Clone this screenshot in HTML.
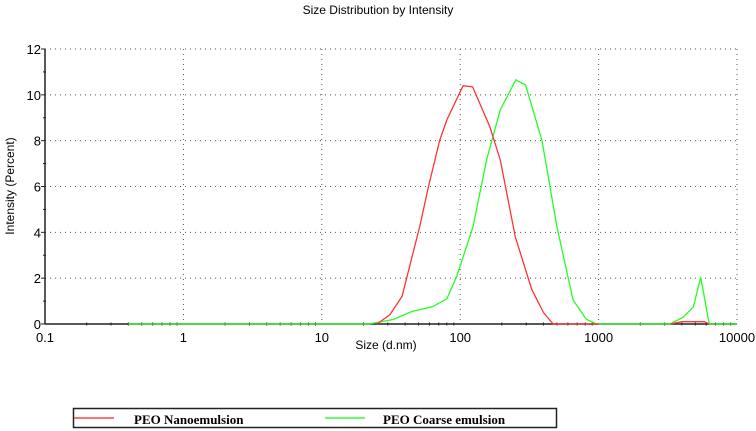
<!DOCTYPE html>
<html><head><meta charset="utf-8"><style>
body{margin:0;background:#fff;}
svg{display:block;font-family:"Liberation Sans",Arial,sans-serif;}
</style></head><body>
<svg id="chart" width="756" height="431" viewBox="0 0 756 431" xmlns="http://www.w3.org/2000/svg">
<text x="378" y="14" text-anchor="middle" font-size="12">Size Distribution by Intensity</text>
<g id="grid"></g>
<g id="axes"></g>
<g id="series"></g>
<text transform="translate(14,186) rotate(-90)" text-anchor="middle" font-size="12">Intensity (Percent)</text>
<text x="386" y="349" text-anchor="middle" font-size="12">Size (d.nm)</text>
<g>
<rect x="73.5" y="408.5" width="483" height="19" fill="none" stroke="#222" stroke-width="1.5"/>
<g>
<line x1="74" y1="418" x2="114" y2="418" stroke="#f44" stroke-width="1.5"/>
<text x="134" y="424" font-family="Liberation Serif,serif" font-weight="bold" font-size="13">PEO Nanoemulsion</text>
</g>
<g>
<line x1="325" y1="418" x2="365" y2="418" stroke="#3f3" stroke-width="1.5"/>
<text x="383" y="424" font-family="Liberation Serif,serif" font-weight="bold" font-size="13">PEO Coarse emulsion</text>
</g>
</g>
</svg>
<script>
const xTickLabels=["0.1","1","10","100","1000","10000"];
const yTickLabels=["0","2","4","6","8","10","12"];
const nanoSize=[25,31,38,51,59,71,80,105,123,164,195,250,329,400,470,1000,null,3300,4000,4800,5800,6300];
const nanoIntensity=[0,0.4,1.2,4.25,6.0,8.0,8.9,10.4,10.35,8.6,7.15,3.8,1.5,0.5,0,0,null,0,0.1,0.1,0.1,0];
const coarseSize=[0.4,22,33,45,63,80,94,124,155,195,252,297,390,500,653,815,970,3280,4100,4840,5470,6300,10000];
const coarseIntensity=[0,0,0.2,0.55,0.75,1.1,2.05,4.25,7.15,9.35,10.65,10.43,8.0,4.25,1.05,0.2,0,0,0.3,0.75,2.05,0,0];
const X0=45,X1=737,Y0=324,Y1=49;
const sx=v=>X0+(Math.log10(v)+1)/5*(X1-X0);
const sy=v=>Y0-v/12*(Y0-Y1);
const NS="http://www.w3.org/2000/svg";
function mk(t,a,p){const e=document.createElementNS(NS,t);for(const k in a)e.setAttribute(k,a[k]);p.appendChild(e);return e;}
const grid=document.getElementById('grid'),axes=document.getElementById('axes'),ser=document.getElementById('series');
xTickLabels.forEach((l,i)=>{const x=sx(parseFloat(l));
 if(i>0){const g=mk('line',{x1:x,y1:Y1,x2:x,y2:Y0,stroke:'#555','stroke-dasharray':'1 4'},grid);
 
 }
 const t=mk('text',{x:x,y:Y0+18,'text-anchor':'middle','font-size':'13'},axes);t.textContent=l;
 
 
 if(i<5){for(let m=2;m<=9;m++){const mx=sx(parseFloat(l)*m);mk('line',{x1:mx,y1:Y0-1.5,x2:mx,y2:Y0+1.5,stroke:'#222'},axes);}}
});
yTickLabels.forEach((l,i)=>{const y=sy(parseFloat(l));
 if(i>0){const g=mk('line',{x1:X0,y1:y,x2:X1,y2:y,stroke:'#555','stroke-dasharray':'1 4'},grid);
 
 }
 mk('line',{x1:X0-4,y1:y,x2:X0,y2:y,stroke:'#222'},axes);
 if(i<6){const my=sy(parseFloat(l)+1);mk('line',{x1:X0-2,y1:my,x2:X0+1,y2:my,stroke:'#222'},axes);}
 const t=mk('text',{x:X0-4,y:y+5,'text-anchor':'end','font-size':'13'},axes);t.textContent=l;
 
 
});
mk('line',{x1:X0,y1:Y1,x2:X0,y2:Y0,stroke:'#222','stroke-width':1.5},axes);
mk('line',{x1:X0,y1:Y0,x2:X1,y2:Y0,stroke:'#222','stroke-width':1.5},axes);
function path(xs,ys,c,name){let d='',pen=false;
 xs.forEach((v,i)=>{if(v===null){pen=false;return;}d+=(pen?'L':'M')+sx(v).toFixed(1)+','+sy(ys[i]).toFixed(1);pen=true;});
 const p=mk('path',{d:d,fill:'none',stroke:c,'stroke-width':1.3},ser);
 
 }
path(coarseSize,coarseIntensity,'#2f2','coarse-emulsion-line');
path(nanoSize,nanoIntensity,'#f33','nanoemulsion-line');
</script>
</body></html>
